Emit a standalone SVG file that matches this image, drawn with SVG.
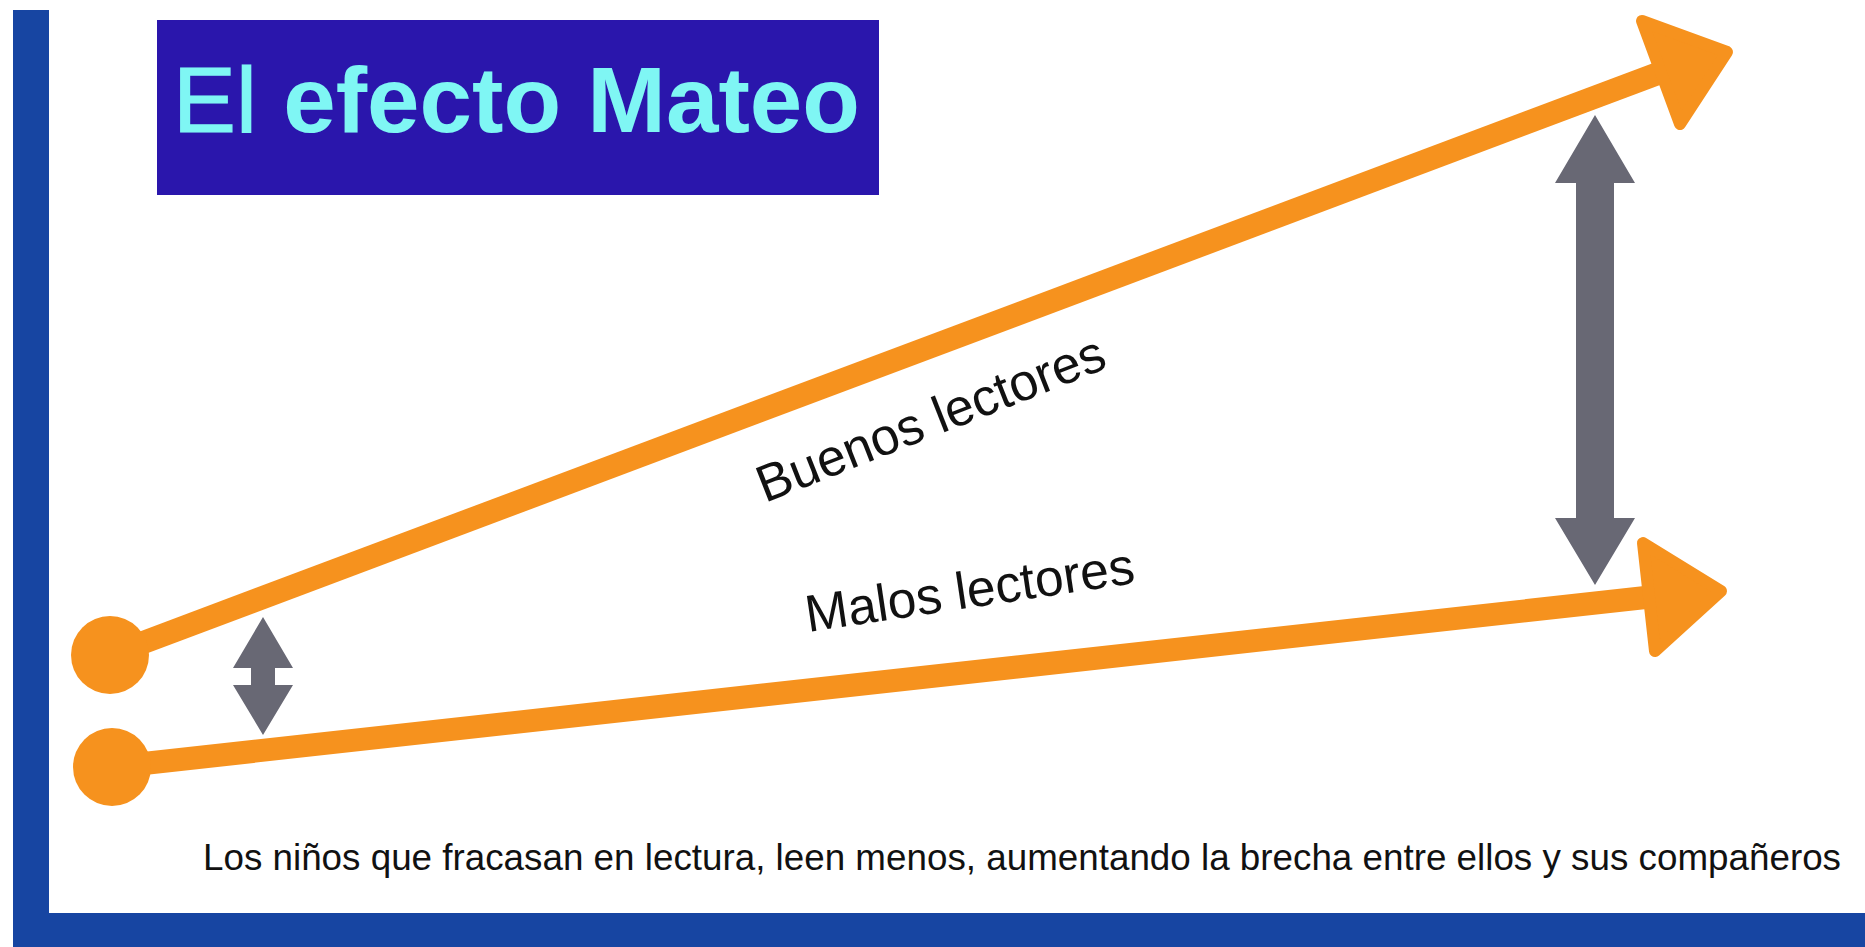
<svg xmlns="http://www.w3.org/2000/svg" width="1865" height="947" viewBox="0 0 1865 947">
  <style>
    .orange { fill: #f6921e; }
    .oline { stroke: #f6921e; stroke-width: 23; fill: none; }
    .ohead { fill: #f6921e; stroke: #f6921e; stroke-width: 12; stroke-linejoin: round; }
    .gray { fill: #686874; }
    .lbl { font-family: "Liberation Sans", Arial, sans-serif; fill: #111111; }
    .frame { fill: #1745a2; }
  </style>
  <rect x="0" y="0" width="1865" height="947" fill="#ffffff"/>
  <g id="frame">
    <rect class="frame" x="13" y="10" width="36" height="937"/>
    <rect class="frame" x="13" y="913" width="1852" height="34"/>
  </g>
  <g id="title">
    <rect x="157" y="20" width="722" height="175" fill="#2a16ac"/>
    <text x="173" y="132" font-family="Liberation Sans, Arial, sans-serif" font-size="92" fill="#7ff6f4" textLength="687" lengthAdjust="spacingAndGlyphs"><tspan stroke="#7ff6f4" stroke-width="1.2">El</tspan> <tspan font-weight="bold">efecto Mateo</tspan></text>
  </g>
  <g id="connectors">
    <g id="buenos-line">
      <line class="oline" x1="110" y1="655" x2="1662" y2="72"/>
      <polygon class="ohead" points="1727,52 1642,21 1680,124"/>
    </g>
    <g id="malos-line">
      <line class="oline" x1="112" y1="767" x2="1650" y2="597"/>
      <polygon class="ohead" points="1721,591 1643,543 1655,651"/>
    </g>
    <g id="gap-big">
      <polygon class="gray" points="1595,115 1635,183 1614,183 1614,518 1635,518 1595,585 1555,518 1576,518 1576,183 1555,183"/>
    </g>
    <g id="gap-small">
      <polygon class="gray" points="263,617 293,668 275,668 275,685 293,685 263,735 233,685 251,685 251,668 233,668"/>
    </g>
  </g>
  <g id="start-buenos">
    <circle class="orange" cx="110" cy="655" r="39"/>
  </g>
  <g id="start-malos">
    <circle class="orange" cx="112" cy="767" r="39"/>
  </g>
  <g id="label-buenos">
    <text class="lbl" x="765" y="503" font-size="52" textLength="370" lengthAdjust="spacingAndGlyphs" transform="rotate(-21.5 765 503)">Buenos lectores</text>
  </g>
  <g id="label-malos">
    <text class="lbl" x="808" y="632" font-size="52" textLength="332" lengthAdjust="spacingAndGlyphs" transform="rotate(-8.5 808 632)">Malos lectores</text>
  </g>
  <g id="caption">
    <text class="lbl" x="203" y="870" font-size="36" textLength="1638" lengthAdjust="spacingAndGlyphs">Los niños que fracasan en lectura, leen menos, aumentando la brecha entre ellos y sus compañeros</text>
  </g>
</svg>
